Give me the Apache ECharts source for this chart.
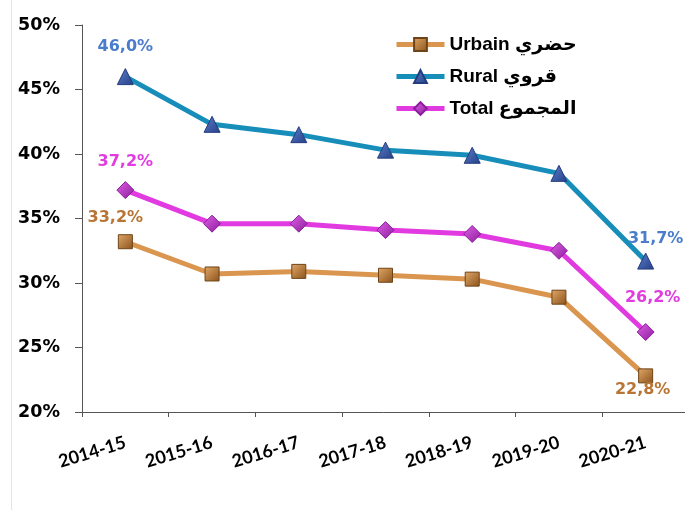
<!DOCTYPE html>
<html>
<head>
<meta charset="utf-8">
<script src="https://cdn.jsdelivr.net/npm/echarts@6/dist/echarts.min.js"></script>
<style>
  html, body { margin: 0; padding: 0; background: #fff; }
  #chart { width: 685px; height: 510px; }
</style>
</head>
<body>
<div id="chart"></div>
<script>
const years = ['2014-15', '2015-16', '2016-17', '2017-18', '2018-19', '2019-20', '2020-21']
const urbain = [33.2, 30.7, 30.9, 30.6, 30.3, 28.9, 22.8]
const rural = [46.0, 42.3, 41.5, 40.3, 39.9, 38.5, 31.7]
const total = [37.2, 34.6, 34.6, 34.1, 33.8, 32.5, 26.2]
const yTicks = [20, 25, 30, 35, 40, 45, 50]

const labelFont = { fontFamily: 'DejaVu Sans', fontWeight: 'bold', fontSize: 16 }

function fmt(v) {
  return v.toFixed(1).replace('.', ',') + '%'
}

// only first and last points carry a label
function withEndLabels(values, color, firstLabel, lastLabel) {
  return values.map((v, i) => {
    if (i === 0) return { value: v, label: { show: true, color, ...labelFont, ...firstLabel } }
    if (i === values.length - 1) return { value: v, label: { show: true, color, ...labelFont, ...lastLabel } }
    return v
  })
}

function grad(c1, c2) {
  return new echarts.graphic.LinearGradient(0, 0, 1, 1, [
    { offset: 0, color: c1 },
    { offset: 1, color: c2 }
  ])
}

const chart = echarts.init(document.getElementById('chart'))

chart.setOption({
  animation: false,
  backgroundColor: '#fff',
  graphic: [{
    type: 'line',
    shape: { x1: 11.5, y1: 0, x2: 11.5, y2: 510 },
    style: { stroke: '#e4e4e4', lineWidth: 1 }
  }],
  legend: {
    orient: 'vertical',
    left: 394,
    top: 35,
    padding: 0,
    itemWidth: 48,
    itemHeight: 16,
    itemGap: 13,
    lineStyle: { width: 5 },
    textStyle: {
      fontFamily: 'Liberation Sans, DejaVu Sans',
      fontWeight: 'bold',
      fontSize: 19,
      lineHeight: 16,
      color: '#000'
    },
    data: ['Urbain حضري', 'Rural قروي', 'Total المجموع']
  },
  grid: {
    left: 82,
    top: 25,
    width: 607,
    bottom: 98,
    containLabel: false,
    outerBoundsMode: 'none'
  },
  xAxis: {
    type: 'category',
    data: years,
    boundaryGap: true,
    axisLine: { lineStyle: { color: '#555', width: 1 } },
    axisTick: { show: true, length: 5, inside: false, lineStyle: { color: '#555' } },
    axisLabel: {
      rotate: 17,
      margin: 30,
      color: '#000',
      fontFamily: 'Lato, Open Sans',
      fontWeight: 'bold',
      fontSize: 18
    }
  },
  yAxis: {
    type: 'value',
    min: yTicks[0],
    max: yTicks[yTicks.length - 1],
    interval: 5,
    splitLine: { show: false },
    axisLine: { show: true, lineStyle: { color: '#555', width: 1 } },
    axisTick: { show: true, length: 7, lineStyle: { color: '#555' } },
    axisLabel: {
      margin: 22,
      color: '#000',
      fontFamily: 'DejaVu Sans',
      fontWeight: 'bold',
      fontSize: 17.5,
      formatter: '{value}%'
    }
  },
  series: [
    {
      name: 'Urbain حضري',
      type: 'line',
      z: 3,
      data: withEndLabels(urbain, '#B87535',
        { position: 'top', distance: 8, offset: [-10, 0], formatter: p => fmt(p.value) },
        { position: 'bottom', distance: -2, offset: [-3, 0], formatter: p => fmt(p.value) }),
      symbol: 'rect',
      symbolSize: 14,
      lineStyle: { color: '#DA954F', width: 5 },
      itemStyle: { color: grad('#E2A868', '#8A521C'), borderColor: '#6E4416', borderWidth: 1 }
    },
    {
      name: 'Rural قروي',
      type: 'line',
      z: 4,
      data: withEndLabels(rural, '#4A7DCC',
        { position: 'top', distance: 13, formatter: p => fmt(p.value) },
        { position: 'top', distance: 6, offset: [10, 0], formatter: p => fmt(p.value) }),
      symbol: 'triangle',
      symbolSize: 16,
      lineStyle: { color: '#178DBA', width: 5 },
      itemStyle: { color: grad('#5A80CC', '#263F86'), borderColor: '#243B7E', borderWidth: 1 }
    },
    {
      name: 'Total المجموع',
      type: 'line',
      z: 5,
      data: withEndLabels(total, '#E03CE0',
        { position: 'top', distance: 11, formatter: p => fmt(p.value) },
        { position: 'top', distance: 17, offset: [7, 0], formatter: p => fmt(p.value) }),
      symbol: 'diamond',
      symbolSize: 17,
      lineStyle: { color: '#E03AE0', width: 5 },
      itemStyle: { color: grad('#E060E8', '#8A1E9A'), borderColor: '#8A1E9A', borderWidth: 1 }
    }
  ]
})
</script>
</body>
</html>
